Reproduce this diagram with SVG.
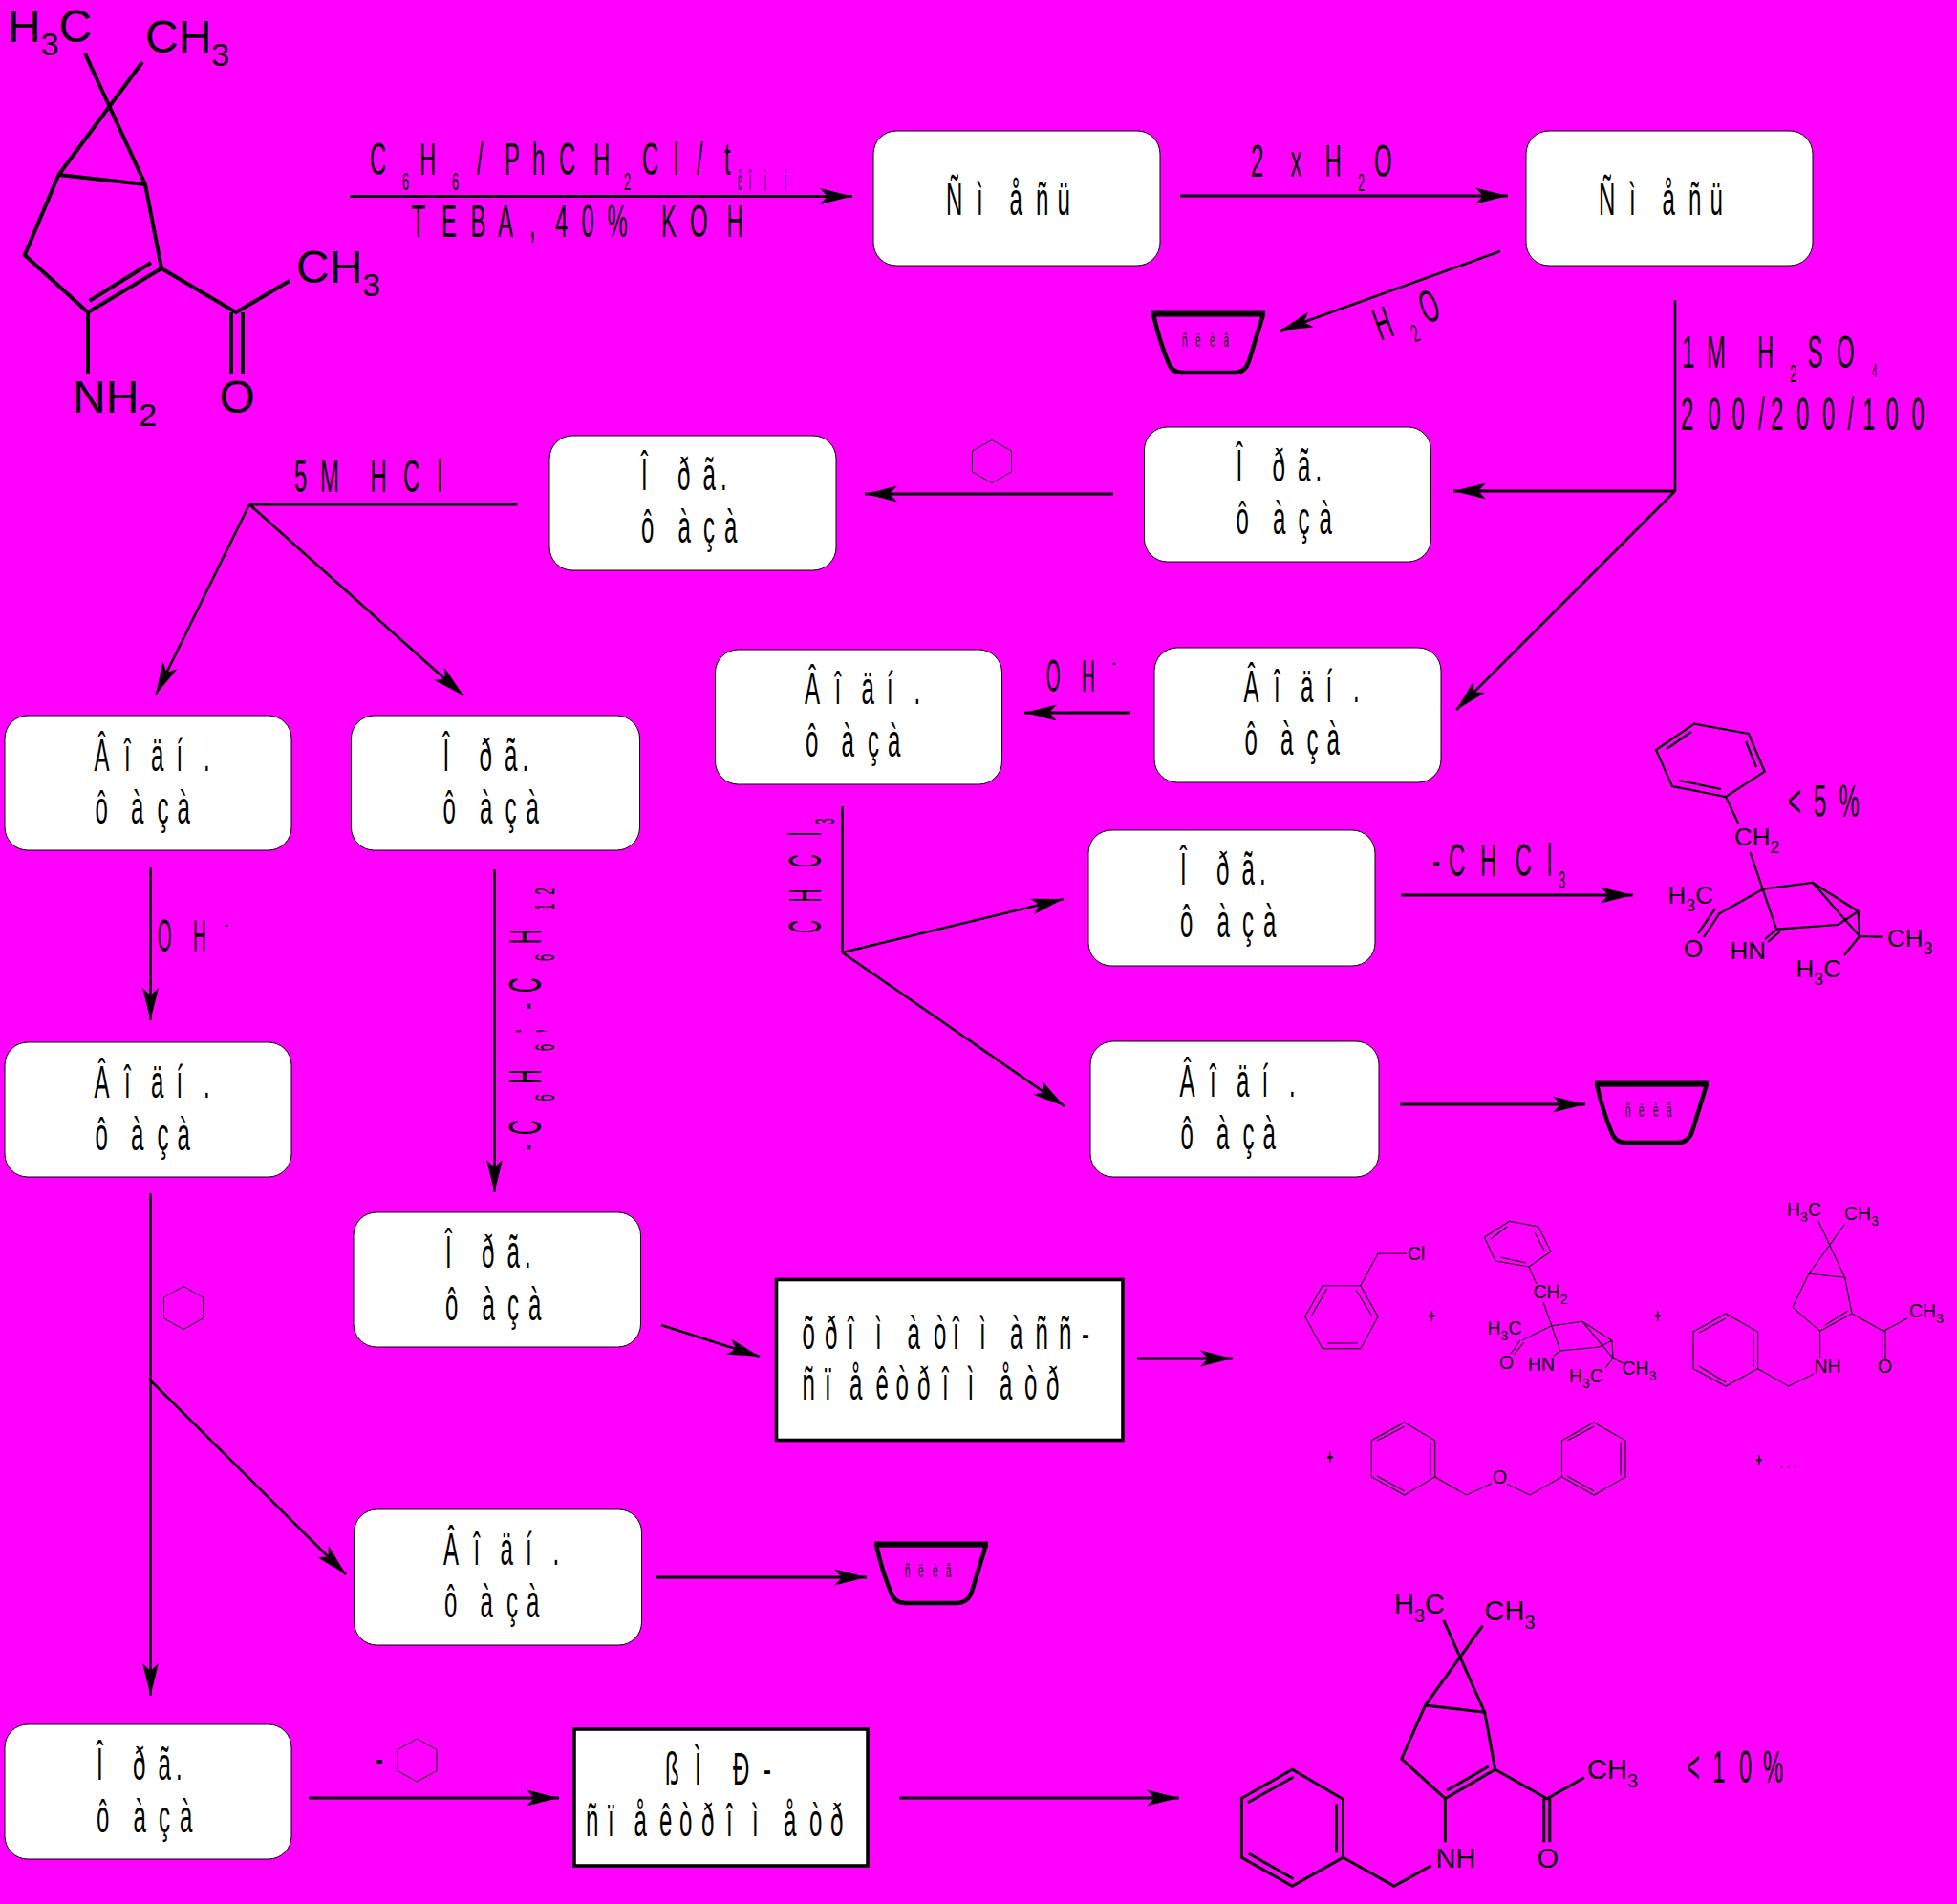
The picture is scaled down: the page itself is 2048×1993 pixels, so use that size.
<svg xmlns="http://www.w3.org/2000/svg" width="2048" height="1993" viewBox="0 0 2048 1993">
<style>
text{font-family:"Liberation Sans",Arial,sans-serif;fill:#000}
.t{font-size:48px}
.s{font-size:26px}
.v{font-size:30px}
.b{fill:#fff;stroke:#000;stroke-width:1}
.r{fill:#fff;stroke:#000;stroke-width:3.6}
.c line{stroke:#000;stroke-width:3.2;fill:none}
.c .th{stroke-width:2.5}
.m1 path{fill:none;stroke:#000;stroke-width:4}
.m2 path{fill:none;stroke:#000;stroke-width:2.2}
.m3 path{fill:none;stroke:#000;stroke-width:3}
.m4 path{fill:none;stroke:#000;stroke-width:1.1}
.l48{font-size:48px}.l48 .u{font-size:34px}
.l26{font-size:26px}.l26 .u{font-size:18px}
.l29{font-size:29px}.l29 .u{font-size:20px}
.l19{font-size:19.5px}.l19 .u{font-size:14px}
.bw{fill:none;stroke:#000;stroke-width:4.5;stroke-linejoin:round}
.sv{fill:none;stroke:#000;stroke-width:1}
.sm{font-size:20px}
.pl{font-size:22px;font-weight:bold}
</style>
<defs>
<marker id="a" markerUnits="userSpaceOnUse" markerWidth="40" markerHeight="24" refX="34" refY="12" orient="auto"><path d="M0 3.5L34 12L0 20.5L8 12Z" fill="#000"/></marker>
<path id="bowl" d="M3 3H118L103 52Q99 64 88 64H33Q22 64 18 52Q9 30 3 3Z"/>
<polygon id="hex" points="0,-22.5 20.5,-11 20.5,11 0,22.5 -20.5,11 -20.5,-11"/>
</defs>
<rect width="2048" height="1993" fill="#ff00ff"/>

<g id="connectors" class="c">
<line x1="366" y1="205.5" x2="892" y2="205.5" marker-end="url(#a)"/>
<line x1="1235" y1="205" x2="1578" y2="205" marker-end="url(#a)"/>
<line class="th" x1="1570" y1="263" x2="1340" y2="346" marker-end="url(#a)"/>
<line class="th" x1="1753" y1="314" x2="1753" y2="514"/>
<line x1="1753" y1="514" x2="1521" y2="514" marker-end="url(#a)"/>
<line class="th" x1="1753" y1="514" x2="1524" y2="743" marker-end="url(#a)"/>
<line x1="1165" y1="517" x2="905" y2="517" marker-end="url(#a)"/>
<line x1="541.5" y1="528" x2="261" y2="528"/>
<line class="th" x1="261" y1="528" x2="163" y2="727" marker-end="url(#a)"/>
<line class="th" x1="261" y1="528" x2="485" y2="728" marker-end="url(#a)"/>
<line x1="1183" y1="746" x2="1072" y2="746" marker-end="url(#a)"/>
<line class="th" x1="881.5" y1="844" x2="881.5" y2="997"/>
<line class="th" x1="881.5" y1="997" x2="1113" y2="941" marker-end="url(#a)"/>
<line class="th" x1="881.5" y1="997" x2="1114" y2="1158" marker-end="url(#a)"/>
<line class="th" x1="157.5" y1="908" x2="157.5" y2="1068" marker-end="url(#a)"/>
<line class="th" x1="517.5" y1="910" x2="517.5" y2="1248" marker-end="url(#a)"/>
<line x1="1466" y1="937" x2="1709" y2="937" marker-end="url(#a)"/>
<line x1="1465" y1="1156" x2="1659" y2="1156" marker-end="url(#a)"/>
<line class="th" x1="157.5" y1="1249" x2="157.5" y2="1775" marker-end="url(#a)"/>
<line class="th" x1="157.5" y1="1445" x2="362" y2="1648" marker-end="url(#a)"/>
<line x1="686" y1="1651" x2="907" y2="1651" marker-end="url(#a)"/>
<line class="th" x1="692" y1="1387" x2="795" y2="1420" marker-end="url(#a)"/>
<line x1="1190" y1="1422" x2="1290" y2="1422" marker-end="url(#a)"/>
<line x1="323" y1="1882" x2="585" y2="1882" marker-end="url(#a)"/>
<line x1="941" y1="1882" x2="1234" y2="1882" marker-end="url(#a)"/>
</g>

<g id="n-mix1" transform="translate(914 137)"><rect class="b" width="300" height="141" rx="24"/><text class="t" transform="scale(.5 1)" y="88" x="152 216 285 340 385">Ñìåñü</text></g>
<g id="n-mix2" transform="translate(1597 137)"><rect class="b" width="300" height="141" rx="24"/><text class="t" transform="scale(.5 1)" y="88" x="152 216 285 340 385">Ñìåñü</text></g>
<g id="n-org1" transform="translate(1197.5 447)"><rect class="b" width="300" height="141" rx="24"/><text class="t" transform="scale(.5 1)" y="57" x="192 268 321 358">Îðã.</text><text class="t" transform="scale(.5 1)" y="112" x="192 269 322 366">ôàçà</text></g>
<g id="n-org2" transform="translate(575 456)"><rect class="b" width="300" height="141" rx="24"/><text class="t" transform="scale(.5 1)" y="57" x="192 268 321 358">Îðã.</text><text class="t" transform="scale(.5 1)" y="112" x="192 269 322 366">ôàçà</text></g>
<g id="n-aq1" transform="translate(1208 678)"><rect class="b" width="300" height="141" rx="24"/><text class="t" transform="scale(.5 1)" y="57" x="187 250 306 359 416">Âîäí.</text><text class="t" transform="scale(.5 1)" y="112" x="189 264 319 361">ôàçà</text></g>
<g id="n-aq2" transform="translate(748.5 680)"><rect class="b" width="300" height="141" rx="24"/><text class="t" transform="scale(.5 1)" y="57" x="187 250 306 359 416">Âîäí.</text><text class="t" transform="scale(.5 1)" y="112" x="189 264 319 361">ôàçà</text></g>
<g id="n-aq3" transform="translate(5 749)"><rect class="b" width="300" height="141" rx="24"/><text class="t" transform="scale(.5 1)" y="58" x="187 250 306 359 416">Âîäí.</text><text class="t" transform="scale(.5 1)" y="113" x="189 264 319 361">ôàçà</text></g>
<g id="n-org3" transform="translate(367.5 749)"><rect class="b" width="302" height="141" rx="24"/><text class="t" transform="scale(.5 1)" y="58" x="192 268 321 358">Îðã.</text><text class="t" transform="scale(.5 1)" y="113" x="192 269 322 366">ôàçà</text></g>
<g id="n-aq4" transform="translate(5 1091)"><rect class="b" width="300" height="141" rx="24"/><text class="t" transform="scale(.5 1)" y="58" x="187 250 306 359 416">Âîäí.</text><text class="t" transform="scale(.5 1)" y="113" x="189 264 319 361">ôàçà</text></g>
<g id="n-org4" transform="translate(370 1269)"><rect class="b" width="300.5" height="141" rx="24"/><text class="t" transform="scale(.5 1)" y="58" x="192 268 321 358">Îðã.</text><text class="t" transform="scale(.5 1)" y="113" x="192 269 322 366">ôàçà</text></g>
<g id="n-org5" transform="translate(1139 869)"><rect class="b" width="300" height="142" rx="24"/><text class="t" transform="scale(.5 1)" y="57" x="192 268 321 358">Îðã.</text><text class="t" transform="scale(.5 1)" y="112" x="192 269 322 366">ôàçà</text></g>
<g id="n-aq5" transform="translate(1141 1090)"><rect class="b" width="302" height="142" rx="24"/><text class="t" transform="scale(.5 1)" y="58" x="187 250 306 359 416">Âîäí.</text><text class="t" transform="scale(.5 1)" y="113" x="189 264 319 361">ôàçà</text></g>
<g id="n-aq6" transform="translate(370.5 1580)"><rect class="b" width="301" height="142" rx="24"/><text class="t" transform="scale(.5 1)" y="58" x="187 250 306 359 416">Âîäí.</text><text class="t" transform="scale(.5 1)" y="113" x="189 264 319 361">ôàçà</text></g>
<g id="n-org6" transform="translate(5 1805)"><rect class="b" width="300" height="141" rx="24"/><text class="t" transform="scale(.5 1)" y="58" x="192 268 321 358">Îðã.</text><text class="t" transform="scale(.5 1)" y="113" x="192 269 322 366">ôàçà</text></g>

<g id="n-gcms"><rect class="r" x="812.5" y="1339.5" width="362.5" height="168"/>
<text class="t" transform="scale(.5 1)" y="1412" x="1679 1726 1774 1832 1899 1954 1994 2050 2114 2167 2216 2264">õðîìàòîìàññ-</text>
<text class="t" transform="scale(.5 1)" y="1465" x="1679 1726 1778 1833 1875 1920 1972 2025 2092 2144 2190">ñïåêòðîìåòð</text></g>
<g id="n-nmr"><rect class="r" x="601" y="1810" width="307" height="143"/>
<text class="t" transform="scale(.5 1)" y="1868" x="1392 1454 1534 1598">ßÌÐ-</text>
<text class="t" transform="scale(.5 1)" y="1922.5" x="1226 1272 1327 1380 1422 1468 1520 1574 1640 1694 1738">ñïåêòðîìåòð</text></g>

<g id="n-waste1"><use href="#bowl" class="bw" transform="translate(1204 326)"/><path d="M1205 328.5H1324" stroke="#000" stroke-width="6"/><text class="sm" transform="scale(.5 1)" y="363" x="2474 2502 2532 2561">ñëèâ</text></g>
<g id="n-waste2"><use href="#bowl" class="bw" transform="translate(1668 1132)"/><path d="M1669 1134.5H1788" stroke="#000" stroke-width="6"/><text class="sm" transform="scale(.5 1)" y="1169" x="3402 3430 3460 3488">ñëèâ</text></g>
<g id="n-waste3"><use href="#bowl" class="bw" transform="translate(914 1614)"/><path d="M915 1616.5H1034" stroke="#000" stroke-width="6"/><text class="sm" transform="scale(.5 1)" y="1651" x="1894 1922 1952 1980">ñëèâ</text></g>

<g id="labels">
<text class="t" transform="scale(.5 1)" y="183"><tspan x="774">C</tspan><tspan class="s" x="842" dy="16">6</tspan><tspan x="878" dy="-16">H</tspan><tspan class="s" x="946" dy="16">6</tspan><tspan x="998 1056 1114 1170 1242" dy="-16">/PhCH</tspan><tspan class="s" x="1306" dy="16">2</tspan><tspan x="1344 1410 1458 1516" dy="-16">Cl/t</tspan></text>
<text font-size="30" transform="scale(.25 1)" y="199" x="3088 3136 3200 3284">êîìí</text>
<text class="t" transform="scale(.5 1)" y="248" x="861 924 985 1042 1108 1140 1162 1217 1271 1330 1384 1444 1521">TEBA, 40% KOH</text>
<text class="t" transform="scale(.5 1)" y="185"><tspan x="2618 2701 2773">2xH</tspan><tspan class="s" x="2842" dy="15">2</tspan><tspan x="2876" dy="-15">O</tspan></text>
<text class="t" transform="translate(1444.4 356.8) rotate(-20) scale(.5 1)"><tspan x="0">H</tspan><tspan class="s" x="67" dy="14">2</tspan><tspan x="102" dy="-14">O</tspan></text>
<text class="t" transform="scale(.5 1)" y="385"><tspan x="3520 3572 3678">1MH</tspan><tspan class="s" x="3746" dy="15">2</tspan><tspan x="3783 3844" dy="-15">SO</tspan><tspan font-size="20" x="3918" dy="10">4</tspan></text>
<text class="t" transform="scale(.5 1)" y="450" x="3518 3575 3625 3680 3706 3760 3814 3867 3898 3947 4001">200/200/100</text>
<text class="t" transform="scale(.5 1)" y="515" x="616 670 775 844 915">5MHCl</text>
<text class="t" transform="scale(.4 1)" y="724"><tspan x="2737 2830">OH</tspan><tspan font-size="28" x="2910" dy="-22">-</tspan></text>
<text class="t" transform="scale(.4 1)" y="996"><tspan x="412 505">OH</tspan><tspan font-size="28" x="588" dy="-20">-</tspan></text>
<text class="t" transform="scale(.5 1)" y="917"><tspan x="2998 3032 3098 3171 3238">-CHCl</tspan><tspan class="s" x="3262" dy="13">3</tspan></text>
<text class="t" transform="translate(859 977) rotate(-90) scale(.4 1)"><tspan x="0 82 172 255">CHCl</tspan><tspan font-size="29" x="285" dy="14">3</tspan></text>
<text class="t" transform="translate(566 1210) rotate(-90) scale(.45 1)"><tspan x="13 49">-C</tspan><tspan class="v" x="127" dy="14">6</tspan><tspan x="167" dy="-14">H</tspan><tspan class="v" x="244" dy="14">6</tspan><tspan x="284 340 380" dy="-14">;-C</tspan><tspan class="v" x="453" dy="14">6</tspan><tspan x="493" dy="-14">H</tspan><tspan class="v" x="571 607" dy="14">12</tspan></text>
<text class="t" transform="scale(.5 1)" y="855" x="3742 3796 3849">&lt;5%</text>
<text class="t" transform="scale(.5 1)" y="1866.5" x="3530 3584 3640 3690">&lt;10%</text>
<text class="t" transform="scale(.5 1)" y="1857" x="786">-</text>
<text class="pl" transform="scale(.5 1)" y="1385" x="2990">+</text>
<text class="pl" transform="scale(.5 1)" y="1385" x="3463">+</text>
<text class="pl" transform="scale(.5 1)" y="1533" x="2777">+</text>
<text class="pl" transform="scale(.5 1)" y="1536" x="3675">+</text>
<text class="sm" transform="scale(.5 1)" y="1537" x="3726 3740 3754">...</text>
<use href="#hex" class="sv" x="1038" y="483"/>
<use href="#hex" class="sv" x="192" y="1369"/>
<use href="#hex" class="sv" x="436.5" y="1842.5"/>
</g>

<g id="m-start" class="m1">
<path d="M89 56L152 193M149 65L61.4 183L25.8 267L92 327L169 281L152 193L61.4 183M93.6 315L158 275M92 327V391M169 281L247 327L303 294M242 327V391M254 327V391"/>
<text class="l48" x="8" y="44">H<tspan class="u" dy="14">3</tspan><tspan dy="-14">C</tspan></text>
<text class="l48" x="152" y="54.5">CH<tspan class="u" dy="14">3</tspan></text>
<text class="l48" x="310" y="296">CH<tspan class="u" dy="14">3</tspan></text>
<text class="l48" x="76" y="431.5">NH<tspan class="u" dy="14">2</tspan></text>
<text class="l48" x="229.5" y="431.5">O</text>
</g>

<g id="m-imine" class="m2">
<path d="M1773 757.7L1830 768L1846.7 807.7L1806 834L1750 823L1733 785ZM1770 766L1744 784M1827 776L1838 803M1757 817L1801 826M1806 834L1819.5 862.7M1831.5 892L1859 972.7M1845 930.7L1897 924L1944.6 954L1946 980L1897 924M1944.6 954L1923.5 968L1859 972.7M1845 930.7L1798 957M1795 951L1777 977M1799 957L1783 981M1859 973L1847 983M1863 975L1850 986M1946 980L1970.6 980.7M1946 980L1930 1000"/>
<text class="l26" x="1815" y="885">CH<tspan class="u" dy="8">2</tspan></text>
<text class="l26" x="1745.5" y="945.5">H<tspan class="u" dy="8">3</tspan><tspan dy="-8">C</tspan></text>
<text class="l26" x="1762" y="1002">O</text>
<text class="l26" x="1810.5" y="1004">HN</text>
<text class="l26" x="1879.5" y="1022.5">H<tspan class="u" dy="8">3</tspan><tspan dy="-8">C</tspan></text>
<text class="l26" x="1975" y="990.5">CH<tspan class="u" dy="8">3</tspan></text>
</g>

<g id="m-final" class="m3">
<path d="M1510.8 1696L1553.7 1792.3M1551.6 1701.7L1491.6 1785L1466.7 1841L1512.4 1882.7L1564.7 1852.3L1553.7 1792.3L1491.6 1785M1514 1874.3L1557.8 1849M1512.4 1882.7V1928.3M1564.7 1852.3L1619 1882.7L1657.8 1860.7M1615.7 1882.7V1928.3M1621.8 1882.7V1928.3M1352.4 1852.3L1405.5 1883.3V1944.3L1352.4 1974.3L1299.4 1944.3V1882.3ZM1353.7 1860L1306 1886.7M1398.6 1888.3V1939.3M1306.7 1940L1353.7 1966.7M1405.5 1944.3L1459 1974.3L1497.8 1952.7"/>
<text class="l29" x="1459" y="1689">H<tspan class="u" dy="9">3</tspan><tspan dy="-9">C</tspan></text>
<text class="l29" x="1553.5" y="1695.5">CH<tspan class="u" dy="9">3</tspan></text>
<text class="l29" x="1661" y="1861.5">CH<tspan class="u" dy="9">3</tspan></text>
<text class="l29" x="1502.5" y="1954.5">NH</text>
<text class="l29" x="1608.5" y="1954.5">O</text>
</g>

<g id="m-benzyl-chloride" class="m4">
<path d="M1384 1345.7H1423.9L1442 1378.3L1423.9 1411.7H1384L1365.7 1378.3ZM1388.6 1349L1372 1378M1419 1350L1436 1378M1389.5 1406H1420.7M1423.9 1345.7L1442 1312.3H1472"/>
<text class="l19" x="1473" y="1318.5">Cl</text>
</g>
<g id="m-imine-small" class="m4">
<path d="M1579.5 1278.3L1610 1284L1623 1310L1600 1326L1565 1320L1553.4 1295ZM1577 1284L1560 1297M1606 1290L1616 1309M1570 1316L1597 1322M1600 1326L1608 1344M1615 1363L1633 1414M1623 1388L1656 1383.3L1687 1403.3L1688 1421.7L1656 1383.3M1687 1403.3L1673.4 1410L1633 1414M1623 1388L1593 1403M1591 1403L1581 1417M1595 1405L1584 1418M1633 1414L1625 1420M1688 1421.7L1680 1432M1688 1421.7L1698.6 1427"/>
<text class="l19" x="1604.5" y="1359">CH<tspan class="u" dy="6">2</tspan></text>
<text class="l19" x="1556.5" y="1396.5">H<tspan class="u" dy="6">3</tspan><tspan dy="-6">C</tspan></text>
<text class="l19" x="1569" y="1432.5">O</text>
<text class="l19" x="1599" y="1435">HN</text>
<text class="l19" x="1642" y="1446.5">H<tspan class="u" dy="6">3</tspan><tspan dy="-6">C</tspan></text>
<text class="l19" x="1697.5" y="1439">CH<tspan class="u" dy="6">3</tspan></text>
</g>
<g id="m-benzylamine-small" class="m4">
<path d="M1903 1278.3L1930.7 1337.3M1930.3 1281.7L1893 1333.3L1876 1368.3L1904.6 1393.3L1938 1375L1930.7 1337.3L1893 1333.3M1910 1387L1934 1372M1904.6 1393.3V1421.7M1938 1375L1971 1393.3L1996 1380M1969.6 1393.3V1422.7M1973 1393.3V1422.7M1806 1375L1839.6 1394V1432.7L1806 1451L1771.9 1432.7V1394ZM1806 1380L1778 1395M1835 1396.7V1430M1778 1430L1806 1446.7M1839.6 1432.7L1871.7 1451L1897.8 1438.3"/>
<text class="l19" x="1870" y="1272.5">H<tspan class="u" dy="6">3</tspan><tspan dy="-6">C</tspan></text>
<text class="l19" x="1930" y="1276.5">CH<tspan class="u" dy="6">3</tspan></text>
<text class="l19" x="1998" y="1379">CH<tspan class="u" dy="6">3</tspan></text>
<text class="l19" x="1898.5" y="1437">NH</text>
<text class="l19" x="1965" y="1437">O</text>
</g>
<g id="m-dibenzyl-ether" class="m4">
<path d="M1469.7 1489L1501.7 1507.7V1546L1469.7 1565L1435.3 1546V1507.7ZM1469.7 1493.3L1441 1508M1497 1510V1544M1441 1545L1469.7 1560.7M1501.7 1546L1534.7 1565L1561 1552.7M1577 1553.3L1601 1565L1634.5 1546M1668 1489L1701 1507.7V1546L1668 1565L1634.5 1546V1507.7ZM1668 1493.3L1640 1508M1696 1510V1544M1640 1545L1668 1560.7"/>
<text class="l19" x="1562" y="1552.5">O</text>
</g>
</svg>
